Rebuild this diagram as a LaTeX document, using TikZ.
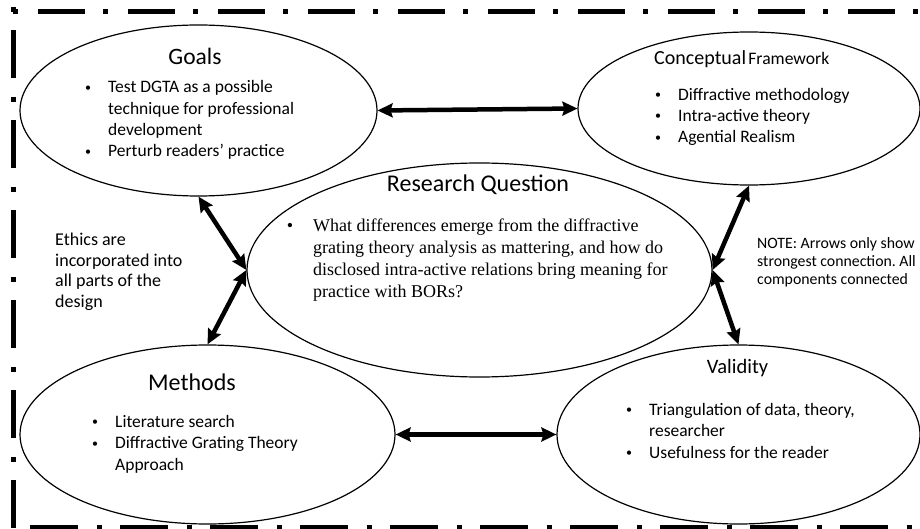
\documentclass[tikz,border=0pt]{standalone}
\usepackage{fontspec}
\setmainfont{Carlito}
\newfontfamily\tnr{Liberation Serif}
\usetikzlibrary{shapes.geometric,arrows.meta}

% small bullet hung to the left of the item text
\newcommand\bul{\llap{\raisebox{1.6pt}{\fontsize{12}{12}\selectfont\textbullet}\hspace{17pt}}}
\newcommand\tbul{\llap{\textbullet\hspace{20pt}}}

\begin{document}
\frenchspacing
\begin{tikzpicture}[x=1pt,y=-1pt,
  bubble/.style={draw,ellipse,line width=1.2pt,inner sep=0pt,fill=white},
  head/.style={anchor=base,inner sep=0pt},
  % multi-line blocks are placed by the baseline of their last line
  items/.style={anchor=base west,align=left,inner sep=0pt,
    font=\fontsize{17.5}{21.4}\selectfont},
  side/.style={anchor=base west,align=left,inner sep=0pt},
  link/.style={line width=4.5pt,
    {Stealth[length=15pt,width=14pt,inset=2pt]}-{Stealth[length=15pt,width=14pt,inset=2pt]}},
  frame/.style={line width=5pt}
]
\useasboundingbox (0,0) rectangle (920,529);
\clip (0,0) rectangle (920,529);
\fill[white] (0,0) rectangle (920,529);

% dash-dot frame round the whole design
\draw[frame,dash pattern=on 5pt off 20pt on 47pt off 18pt] (13,11.5) -- (940,11.5);
\draw[frame,dash pattern=on 5pt off 18pt on 48pt off 19pt] (13.5,7) -- (13.5,545);
\draw[frame,dash pattern=on 48pt off 19pt on 5pt off 18pt] (30,527.5) -- (940,527.5);

% the five components
\node[bubble,minimum width=357pt,minimum height=171pt] (goals) at (198.5,110.5) {};
\node[bubble,minimum width=342pt,minimum height=153pt] (concept) at (749,108.5) {};
\node[bubble,minimum width=465pt,minimum height=214pt] (rq) at (479.5,270) {};
\node[bubble,minimum width=375pt,minimum height=179pt] (methods) at (207.5,434.5) {};
\node[bubble,minimum width=363pt,minimum height=179pt] (validity) at (738.5,434.5) {};

% connections
\draw[link] (goals.east) -- (concept.west);
\draw[link] (methods.east) -- (validity.west);
\draw[link] (goals.south) -- (rq.west);
\draw[link] (rq.west) -- (methods.north);
\draw[link] (concept.south) -- (rq.east);
\draw[link] (rq.east) -- (validity.north);

% Goals
\node[head,font=\fontsize{23.5}{27}\selectfont] (goalsT) at (195,65) {Goals};
\node[items] (goalsL) at (108,157) {\bul Test DGTA as a possible\\technique for professional\\development\\\bul Perturb readers’ practice};

% Conceptual Framework
\node[anchor=base west,inner sep=0pt] (conceptT) at (654,65)
  {{\fontsize{20}{24}\selectfont Conceptual} {\fontsize{17.6}{21}\selectfont Framework}};
\node[items] (conceptL) at (678,143) {\bul Diffractive methodology\\\bul Intra-active theory\\\bul Agential Realism};

% Research Question
\node[head,font=\fontsize{24}{28}\selectfont] (rqT) at (478,192) {Research Question};
\node[items,font=\tnr\fontsize{18}{21.7}\selectfont] (rqL) at (313,297)
  {\tbul What differences emerge from the diffractive\\grating theory analysis as mattering, and how do\\disclosed intra-active relations bring meaning for\\practice with BORs?};

% Methods
\node[head,font=\fontsize{24}{28}\selectfont] (methodsT) at (192,390) {Methods};
\node[items] (methodsL) at (115,470) {\bul Literature search\\\bul Diffractive Grating Theory\\Approach};

% Validity
\node[head,font=\fontsize{20.5}{24}\selectfont] (validityT) at (737.5,373) {Validity};
\node[items] (validityL) at (649,458) {\bul Triangulation of data, theory,\\researcher\\\bul Usefulness for the reader};

% side remarks
\node[side,font=\fontsize{18}{20.5}\selectfont] (ethics) at (55,307)
  {Ethics are\\incorporated into\\all parts of the\\design};
\node[side,font=\fontsize{15.8}{18}\selectfont] (note) at (757,284)
  {NOTE: Arrows only show\\strongest connection. All\\components connected};
\end{tikzpicture}
\end{document}
